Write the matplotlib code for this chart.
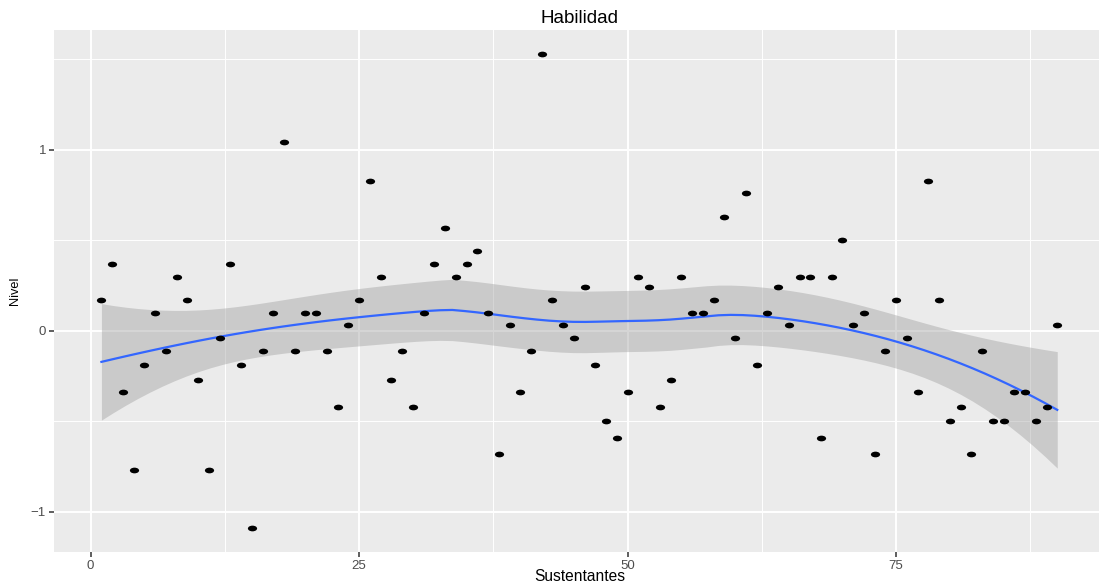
import numpy as np
import matplotlib
matplotlib.use('Agg')
import matplotlib.pyplot as plt
from matplotlib.path import Path
from matplotlib.transforms import Affine2D

plt.rcParams['font.family'] = ['Liberation Sans', 'DejaVu Sans']

# Sustentantes 1..90 y su nivel de habilidad
sustentantes = np.arange(1, 91)
nivel = [
    0.17, 0.37, -0.34, -0.77, -0.19, 0.10, -0.11, 0.30, 0.17, -0.27,
    -0.77, -0.04, 0.37, -0.19, -1.09, -0.11, 0.10, 1.04, -0.11, 0.10,
    0.10, -0.11, -0.42, 0.03, 0.17, 0.83, 0.30, -0.27, -0.11, -0.42,
    0.10, 0.37, 0.57, 0.30, 0.37, 0.44, 0.10, -0.68, 0.03, -0.34,
    -0.11, 1.53, 0.17, 0.03, -0.04, 0.24, -0.19, -0.50, -0.59, -0.34,
    0.30, 0.24, -0.42, -0.27, 0.30, 0.10, 0.10, 0.17, 0.63, -0.04,
    0.76, -0.19, 0.10, 0.24, 0.03, 0.30, 0.30, -0.59, 0.30, 0.50,
    0.03, 0.10, -0.68, -0.11, 0.17, -0.04, -0.34, 0.83, 0.17, -0.50,
    -0.42, -0.68, -0.11, -0.50, -0.50, -0.34, -0.34, -0.50, -0.42, 0.03,
]

x_ticks = [0, 25, 50, 75]
y_ticks = [-1, 0, 1]


def loess_matrix(x, x0, span=0.75):
    # matriz de suavizado loess (grado 2, pesos tricubicos)
    n = len(x)
    q = int(np.floor(n * span))
    L = np.zeros((len(x0), n))
    for k, p in enumerate(x0):
        d = np.abs(x - p)
        h = np.sort(d)[q - 1]
        w = np.clip(1 - (d / h) ** 3, 0, None) ** 3
        X = np.column_stack([np.ones(n), x - p, (x - p) ** 2])
        XtW = X.T * w
        L[k] = np.linalg.solve(XtW @ X, XtW)[0]
    return L


def t975(df):
    z = 1.959964
    return (z + (z**3 + z) / (4 * df)
            + (5 * z**5 + 16 * z**3 + 3 * z) / (96 * df**2)
            + (3 * z**7 + 19 * z**5 + 17 * z**3 - 15 * z) / (384 * df**3))


def smooth(x, y, npts=80):
    x = np.asarray(x, float)
    y = np.asarray(y, float)
    L = loess_matrix(x, x)
    R = np.eye(len(x)) - L
    M = R.T @ R
    d1 = np.trace(M)
    d2 = np.trace(M @ M)
    sigma = np.sqrt(np.sum((R @ y) ** 2) / d1)
    xg = np.linspace(x.min(), x.max(), npts)
    Lg = loess_matrix(x, xg)
    fit = Lg @ y
    se = sigma * np.sqrt(np.sum(Lg ** 2, axis=1))
    t = t975(d1 ** 2 / d2)
    return xg, fit, fit - t * se, fit + t * se


xg, fit, lo, hi = smooth(sustentantes, nivel)

fig = plt.figure(figsize=(10.99, 5.86), dpi=100)
ax = fig.add_axes([0.0488, 0.058, 0.9567, 0.8908])
ax.set_facecolor('#EBEBEB')
for s in ax.spines.values():
    s.set_visible(False)

ax.set_xlim(-3.45, 94.45)
ax.set_ylim(-1.221, 1.661)
ax.set_xticks(x_ticks)
ax.set_yticks(y_ticks)
ax.set_xticks([12.5, 37.5, 62.5, 87.5], minor=True)
ax.set_yticks([-0.5, 0.5, 1.5], minor=True)
ax.grid(which='major', color='white', linewidth=1.4)
ax.grid(which='minor', color='white', linewidth=0.7)
ax.set_axisbelow(True)
ax.tick_params(which='major', length=3.5, width=1.1, color='#333333',
               labelsize=9.5, labelcolor='#4D4D4D', pad=2)
ax.tick_params(which='minor', length=0)

ax.fill_between(xg, lo, hi, color='#999999', alpha=0.4, linewidth=0, zorder=2)
ax.plot(xg, fit, color='#3366FF', linewidth=1.6, zorder=3)

dot = Path.unit_circle().transformed(Affine2D().scale(1, 0.62))
ax.scatter(sustentantes, nivel, marker=dot, s=44, color='black',
           linewidths=0, zorder=4)

ax.set_title('Habilidad', fontsize=13.5, pad=5)
ax.set_xlabel('Sustentantes', fontsize=11.2, labelpad=-2)
ax.set_ylabel('Nivel', fontsize=9.2, labelpad=7)

fig.savefig('out.png', dpi=100)
